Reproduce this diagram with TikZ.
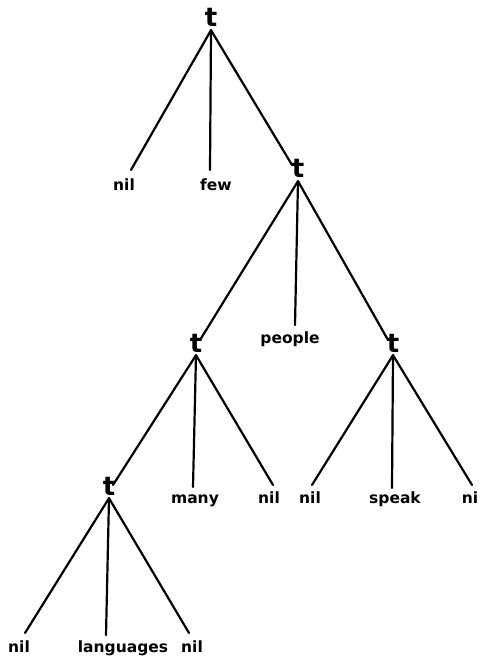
\documentclass[tikz,border=0pt]{standalone}
\usepackage{fontspec}
\setmainfont{DejaVu Sans}
\begin{document}
\begin{tikzpicture}[x=1pt,y=-1pt,
  tnode/.style={font=\fontsize{26}{26}\selectfont\bfseries, anchor=base, inner sep=3pt},
  leaf/.style={font=\fontsize{15.5}{15.5}\selectfont\bfseries, anchor=base, inner sep=2pt},
  edge/.style={line width=2.2pt, line cap=round}]
\useasboundingbox (0,0) rectangle (480,660);
% internal nodes
\node[tnode] (r)  at (211,27)  {t};
\node[tnode] (t2) at (298,178) {t};
\node[tnode] (t3) at (196,352) {t};
\node[tnode] (t4) at (393,352) {t};
\node[tnode] (t5) at (109,495) {t};
% leaves
\node[leaf] (n1)     at (124,190) {nil};
\node[leaf] (few)    at (216,190) {few};
\node[leaf] (people) at (290,343) {people};
\node[leaf] (many)   at (195,503) {many};
\node[leaf] (n2)     at (269,503) {nil};
\node[leaf] (n3)     at (310,503) {nil};
\node[leaf] (speak)  at (395,503) {speak};
\node[leaf] (ni)     at (470,503) {ni};
\node[leaf] (n4)     at (19,652)  {nil};
\node[leaf] (lang)   at (123,652) {languages};
\node[leaf] (n5)     at (192,652) {nil};
% connector ends
\coordinate (e-n1) at (131,170);
\coordinate (e-few) at (210,170);
\coordinate (e-t2) at (292,165);
\coordinate (e-t3) at (200,340);
\coordinate (e-people) at (295,325);
\coordinate (e-t4) at (388,340);
\coordinate (e-t5) at (113,485);
\coordinate (e-many) at (193,487);
\coordinate (e-n2) at (273,485);
\coordinate (e-n3) at (312,485);
\coordinate (e-speak) at (392,488);
\coordinate (e-ni) at (472,485);
\coordinate (e-n4) at (25,633);
\coordinate (e-lang) at (106,635);
\coordinate (e-n5) at (189,633);
% connectors
\draw[edge] (r.south) -- (e-n1);
\draw[edge] (r.south) -- (e-few);
\draw[edge] (r.south) -- (e-t2);
\draw[edge] (t2.south) -- (e-t3);
\draw[edge] (t2.south) -- (e-people);
\draw[edge] (t2.south) -- (e-t4);
\draw[edge] (t3.south) -- (e-t5);
\draw[edge] (t3.south) -- (e-many);
\draw[edge] (t3.south) -- (e-n2);
\draw[edge] (t4.south) -- (e-n3);
\draw[edge] (t4.south) -- (e-speak);
\draw[edge] (t4.south) -- (e-ni);
\draw[edge] (t5.south) -- (e-n4);
\draw[edge] (t5.south) -- (e-lang);
\draw[edge] (t5.south) -- (e-n5);
\end{tikzpicture}
\end{document}
